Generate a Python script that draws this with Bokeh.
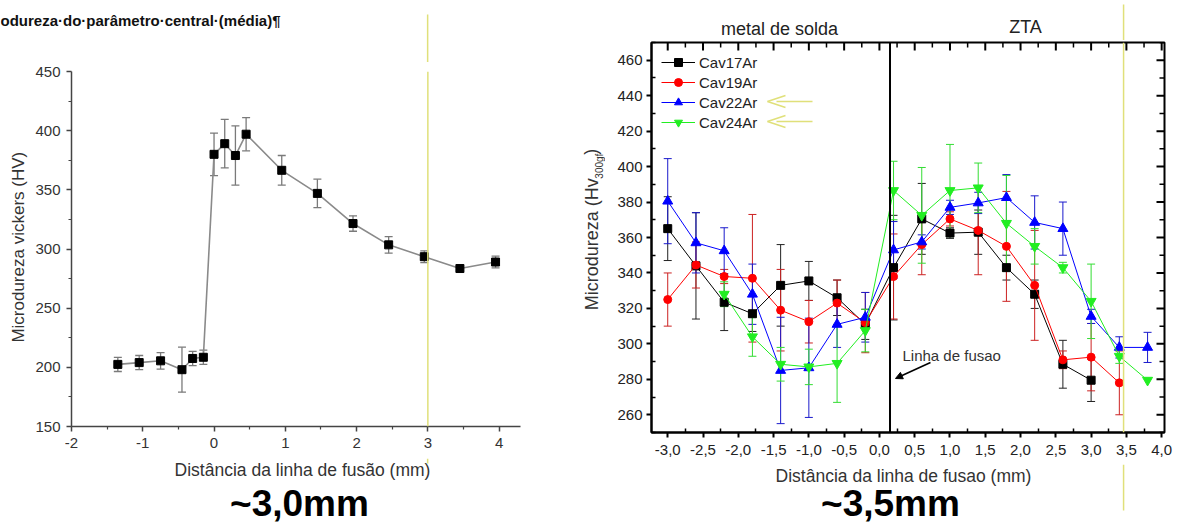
import math
from bokeh.plotting import figure
from bokeh.models import (ColumnDataSource, Whisker, TeeHead, Span, Label, Arrow, NormalHead,
                          FixedTicker, Legend, LegendItem, Range1d)
from bokeh.layouts import row, column
from bokeh.embed import file_html
from bokeh.resources import INLINE

FONT = "Liberation Sans"
YELLOW = "#e0e07a"

# ---------------- left chart data ----------------
left_x = [-1.35, -1.05, -0.75, -0.45, -0.30, -0.15, 0.0, 0.15, 0.30, 0.45, 0.95, 1.45, 1.95, 2.45, 2.95, 3.45, 3.95]
left_y = [202.5, 204, 205.5, 198, 207.5, 208.5, 380, 389, 379, 397, 366.5, 347, 321.5, 303.5, 293.5, 283.5, 289]
left_err = [6, 6, 7, 19, 6, 6, 18, 20.5, 25, 14, 12.5, 12, 6.5, 7, 5, 2, 5]
left_xticks = [-2, -1, 0, 1, 2, 3, 4]
left_xtick_labels = ["-2", "-1", "0", "1", "2", "3", "4"]
left_xminor = [-1.5, -0.5, 0.5, 1.5, 2.5, 3.5]
left_yticks = [150, 200, 250, 300, 350, 400, 450]
left_ytick_labels = ["150", "200", "250", "300", "350", "400", "450"]
left_yminor = [175, 225, 275, 325, 375, 425]
left_title = "odureza·do·parâmetro·central·(média)¶"
left_xlabel = "Distância da linha de fusão (mm)"
left_ylabel = "Microdureza vickers (HV)"
left_note = "~3,0mm"
left_mark_x = 3.0

# ---------------- right chart data ----------------
series_names = ["Cav17Ar", "Cav19Ar", "Cav22Ar", "Cav24Ar"]
x17 = [-3.0, -2.6, -2.2, -1.8, -1.4, -1.0, -0.6, -0.2, 0.2, 0.6, 1.0, 1.4, 1.8, 2.2, 2.6, 3.0]
y17 = [365, 344, 323.5, 317, 333, 335.5, 326, 311, 343, 370.5, 362.5, 363, 343, 328, 288.5, 279.5]
e17 = [18, 30, 16, 10, 23, 11, 10, 8.5, 29.5, 20, 3, 12.5, 7, 8, 13.5, 12]

x19 = [-3.0, -2.6, -2.2, -1.8, -1.4, -1.0, -0.6, -0.2, 0.2, 0.6, 1.0, 1.4, 1.8, 2.2, 2.6, 3.0, 3.4]
y19 = [325, 344.5, 338, 337, 319, 312.5, 323, 312, 338, 356, 370.5, 364, 355, 333, 291, 292.5, 278]
e19 = [15, 13, 4, 36, 23, 12, 13, 17, 24, 17, 4, 25, 31, 31, 5, 19, 18]

x22 = [-3.0, -2.6, -2.2, -1.8, -1.4, -1.0, -0.6, -0.2, 0.2, 0.6, 1.0, 1.4, 1.8, 2.2, 2.6, 3.0, 3.4, 3.8]
y22 = [380.5, 357, 352.5, 328, 285, 286.5, 311, 315, 353, 357.5, 377, 379.5, 382.5, 368.5, 365, 315.5, 298, 298]
e22 = [24, 17, 13, 17, 30, 28, 13, 14, 16, 4, 4, 6, 13, 15, 15, 4, 6, 8.5]

x24 = [-2.2, -1.8, -1.4, -1.0, -0.6, -0.2, 0.2, 0.6, 1.0, 1.4, 1.8, 2.2, 2.6, 3.0, 3.4, 3.8]
y24 = [328, 304, 288.5, 287, 289, 307.5, 386.5, 372.5, 386.5, 388, 368, 355, 343, 324, 293, 279.5]
e24 = [7, 11, 9.5, 10, 22, 12, 16.5, 27, 26, 14, 27, 10, 3, 21, 4, 0]

right_xticks = [-3.0, -2.5, -2.0, -1.5, -1.0, -0.5, 0.0, 0.5, 1.0, 1.5, 2.0, 2.5, 3.0, 3.5, 4.0]
right_xtick_labels = ["-3,0", "-2,5", "-2,0", "-1,5", "-1,0", "-0,5", "0,0", "0,5",
                      "1,0", "1,5", "2,0", "2,5", "3,0", "3,5", "4,0"]
right_xminor = [-2.75, -2.25, -1.75, -1.25, -0.75, -0.25, 0.25, 0.75, 1.25, 1.75, 2.25, 2.75, 3.25, 3.75]
right_yticks = [260, 280, 300, 320, 340, 360, 380, 400, 420, 440, 460]
right_yminor = [250, 270, 290, 310, 330, 350, 370, 390, 410, 430, 450, 470]
fusion_x = 0.15
right_mark_x = 3.46
right_xlabel = "Distância da linha de fusao (mm)"
right_ylabel_parts = ["Microdureza (Hv", "300gf", ")"]
right_note = "~3,5mm"
zone_labels = ["metal de solda", "ZTA"]
fusion_label = "Linha de fusao"

# ---------------- layout geometry (page pixels) ----------------
L_X0, L_X1 = 0, 578
R_X0, R_X1 = 578, 1187
PAGE_H = 526

LXR = (-2.0, 4.3)
LYR = (150, 450)
L_FRAME = (70, 520, 71, 426)
RXR = (-3.23, 4.04)
RYR = (250, 470)
R_FRAME = (651, 1164, 42, 432)


def l_px(x):
    return L_FRAME[0] + (x - LXR[0]) * (L_FRAME[1] - L_FRAME[0]) / (LXR[1] - LXR[0])


def r_px(x):
    return R_FRAME[0] + (x - RXR[0]) * (R_FRAME[1] - R_FRAME[0]) / (RXR[1] - RXR[0])


def rx(px):
    return RXR[0] + (px - R_FRAME[0]) * (RXR[1] - RXR[0]) / (R_FRAME[1] - R_FRAME[0])


def ry(py):
    return RYR[1] - (py - R_FRAME[2]) * (RYR[1] - RYR[0]) / (R_FRAME[3] - R_FRAME[2])


def canvas(x0, x1, y0, y1):
    """Axis-less figure whose data coordinates are page pixels (y negated)."""
    c = figure(width=x1 - x0, height=y1 - y0, x_range=Range1d(x0, x1), y_range=Range1d(-y1, -y0),
               title=None, x_axis_location=None, y_axis_location=None, min_border=0,
               output_backend="svg", toolbar_location=None)
    c.outline_line_color = None
    c.grid.visible = False
    c.background_fill_color = "white"
    c.border_fill_color = "white"
    return c


def lab(c, x, y, text, **kw):
    base = dict(x=x, y=-y, text=text, text_font=FONT, text_align="center", text_baseline="middle")
    base.update(kw)
    c.add_layout(Label(**base))


def vline(c, x, y0, y1):
    c.segment(x0=[x], y0=[-y0], x1=[x], y1=[-y1], line_color=YELLOW, line_width=1.5)


def add_whiskers(p, xs, ys, es, color, size, width=1):
    pts = [(x, y - e, y + e) for x, y, e in zip(xs, ys, es) if e > 0]
    src = ColumnDataSource(dict(x=[a[0] for a in pts], lower=[a[1] for a in pts], upper=[a[2] for a in pts]))
    w = Whisker(source=src, base="x", lower="lower", upper="upper", dimension="height",
                line_color=color, line_width=width,
                upper_head=TeeHead(size=size, line_color=color, line_width=width),
                lower_head=TeeHead(size=size, line_color=color, line_width=width))
    p.add_layout(w)


# ======================= LEFT CHART =======================
L_HEAD_Y1 = 62
L_MID_Y1 = 458
L_SIDE_X1 = 32

p1 = figure(width=L_X1 - L_SIDE_X1, height=L_MID_Y1 - L_HEAD_Y1,
            x_range=Range1d(*LXR), y_range=Range1d(*LYR), title=None,
            output_backend="svg", toolbar_location=None,
            min_border_left=L_FRAME[0] - L_SIDE_X1, min_border_right=L_X1 - L_FRAME[1],
            min_border_top=L_FRAME[2] - L_HEAD_Y1, min_border_bottom=L_MID_Y1 - L_FRAME[3])
p1.grid.visible = False
p1.outline_line_color = None

p1.xaxis.ticker = FixedTicker(ticks=left_xticks, minor_ticks=left_xminor)
p1.yaxis.ticker = FixedTicker(ticks=left_yticks, minor_ticks=left_yminor)
p1.xaxis.major_label_overrides = dict(zip(left_xticks, left_xtick_labels))
p1.yaxis.major_label_overrides = dict(zip(left_yticks, left_ytick_labels))
for ax in (p1.xaxis[0], p1.yaxis[0]):
    ax.axis_line_color = "#444444"
    ax.axis_line_width = 1.5
    ax.major_tick_line_color = "#444444"
    ax.minor_tick_line_color = "#444444"
    ax.major_tick_line_width = 1.5
    ax.minor_tick_line_width = 1.2
    ax.major_tick_out = 5
    ax.major_tick_in = 0
    ax.minor_tick_out = 3
    ax.minor_tick_in = 0
    ax.major_label_text_font = FONT
    ax.major_label_text_font_size = "15px"
    ax.major_label_text_color = "#333333"
    ax.major_label_standoff = 6

add_whiskers(p1, left_x, left_y, left_err, "#7a7a7a", 8, 1.3)
p1.line(left_x, left_y, line_color="#8a8a8a", line_width=1.6)
p1.scatter(left_x, left_y, marker="square", size=8, fill_color="black", line_color="black")
p1.add_layout(Span(location=left_mark_x, dimension="height", line_color=YELLOW, line_width=1.5))

l_head = canvas(L_X0, L_X1, 0, L_HEAD_Y1)
lab(l_head, 0, 20, left_title, text_align="left", text_font_size="15px", text_font_style="bold",
    text_color="#111111")
vline(l_head, l_px(left_mark_x), 14, L_HEAD_Y1)

l_side = canvas(L_X0, L_SIDE_X1, L_HEAD_Y1, L_MID_Y1)
lab(l_side, 18, 258, left_ylabel, angle=math.pi / 2, text_font_size="17px", text_color="#333333")

l_foot = canvas(L_X0, L_X1, L_MID_Y1, PAGE_H)
lab(l_foot, 302, 469, left_xlabel, text_font_size="17.5px", text_color="#333333")
lab(l_foot, 299, 503, left_note, text_font_size="37px", text_font_style="bold", text_color="black")
vline(l_foot, l_px(left_mark_x), L_MID_Y1, 463)

left_block = column(l_head, row(l_side, p1), l_foot)

# ======================= RIGHT CHART =======================
R_HEAD_Y1 = 40
R_MID_Y1 = 464
R_SIDE_X1 = 605

p2 = figure(width=R_X1 - R_SIDE_X1, height=R_MID_Y1 - R_HEAD_Y1,
            x_range=Range1d(*RXR), y_range=Range1d(*RYR), title=None,
            output_backend="svg", toolbar_location=None,
            min_border_left=R_FRAME[0] - R_SIDE_X1, min_border_right=R_X1 - R_FRAME[1],
            min_border_top=R_FRAME[2] - R_HEAD_Y1, min_border_bottom=R_MID_Y1 - R_FRAME[3])
p2.grid.visible = False
p2.outline_line_color = "black"
p2.outline_line_width = 2

p2.xaxis.ticker = FixedTicker(ticks=right_xticks, minor_ticks=right_xminor)
p2.yaxis.ticker = FixedTicker(ticks=right_yticks, minor_ticks=right_yminor)
p2.xaxis.major_label_overrides = dict(zip(right_xticks, right_xtick_labels))
for ax in (p2.xaxis[0], p2.yaxis[0]):
    ax.axis_line_color = "black"
    ax.axis_line_width = 2
    ax.major_tick_line_color = "black"
    ax.minor_tick_line_color = "black"
    ax.major_tick_line_width = 2
    ax.minor_tick_line_width = 1.5
    ax.major_tick_out = 5
    ax.major_tick_in = 0
    ax.minor_tick_out = 0
    ax.minor_tick_in = 4
    ax.major_label_text_font = FONT
    ax.major_label_text_font_size = "15px"
    ax.major_label_text_color = "#222222"
p2.xaxis[0].major_label_standoff = 7
p2.yaxis[0].major_label_standoff = 4

# inward ticks on the top and right frame edges
px_per_y = (R_FRAME[3] - R_FRAME[2]) / (RYR[1] - RYR[0])
px_per_x = (R_FRAME[1] - R_FRAME[0]) / (RXR[1] - RXR[0])
for ticks, length in ((right_xticks, 8), (right_xminor, 5)):
    p2.segment(x0=ticks, y0=[RYR[1]] * len(ticks), x1=ticks, y1=[RYR[1] - length / px_per_y] * len(ticks),
               line_color="black", line_width=2 if length == 8 else 1.5)
for ticks, length in ((right_yticks, 8), (right_yminor, 5)):
    p2.segment(x0=[RXR[1]] * len(ticks), y0=ticks, x1=[RXR[1] - length / px_per_x] * len(ticks), y1=ticks,
               line_color="black", line_width=2 if length == 8 else 1.5)

p2.add_layout(Span(location=fusion_x, dimension="height", line_color="black", line_width=2))

series = [
    (x17, y17, e17, "black", "#222222", "square", 8),
    (x19, y19, e19, "#ff0000", "#cc2222", "circle", 8),
    (x22, y22, e22, "#0000ff", "#1a1acc", "triangle", 10),
    (x24, y24, e24, "#22ee22", "#33dd33", "inverted_triangle", 10),
]
items = []
for name, (xs, ys, es, col, ecol, mk, sz) in zip(series_names, series):
    add_whiskers(p2, xs, ys, es, ecol, 8, 1)
    lr = p2.line(xs, ys, line_color=col, line_width=1)
    sr = p2.scatter(xs, ys, marker=mk, size=sz, fill_color=col, line_color=col)
    items.append(LegendItem(label=name, renderers=[lr, sr]))

legend = Legend(items=items, location="top_left", margin=0, padding=10, spacing=0,
                glyph_width=34, glyph_height=20, label_height=20, label_standoff=4,
                label_text_font=FONT, label_text_font_size="15px", label_text_color="#222222",
                border_line_alpha=0, background_fill_alpha=0)
p2.add_layout(legend)

# yellow pointer arrows next to Cav22Ar and Cav24Ar
for py in (101, 121):
    yy = ry(py)
    tip = rx(767)
    p2.segment(x0=[tip, tip, rx(776)], y0=[yy, yy, yy],
               x1=[rx(785), rx(785), rx(812)], y1=[ry(py - 6), ry(py + 6), yy],
               line_color=YELLOW, line_width=1.5)

p2.add_layout(Span(location=right_mark_x, dimension="height", line_color=YELLOW, line_width=1.5))

p2.add_layout(Label(x=rx(902), y=ry(355), text=fusion_label, text_font=FONT, text_align="left",
                    text_baseline="middle", text_font_size="15px", text_color="#333333"))
p2.add_layout(Arrow(x_start=rx(930), y_start=ry(362), x_end=rx(895), y_end=ry(378),
                    line_color="black", line_width=1.5,
                    end=NormalHead(size=7, fill_color="black", line_color="black")))

r_head = canvas(R_X0, R_X1, 0, R_HEAD_Y1)
lab(r_head, 779, 28, zone_labels[0], text_font_size="18px", text_color="#222222")
lab(r_head, 1025, 26, zone_labels[1], text_font_size="18px", text_color="#222222")
vline(r_head, r_px(right_mark_x), 4, R_HEAD_Y1)

r_side = canvas(R_X0, R_SIDE_X1, R_HEAD_Y1, R_MID_Y1)
lab(r_side, 591, 331, right_ylabel_parts[0], angle=math.pi / 2, text_align="left",
    text_font_size="18px", text_color="#333333")
lab(r_side, 599, 188, right_ylabel_parts[1], angle=math.pi / 2, text_align="left",
    text_font_size="10px", text_color="#333333")
lab(r_side, 590, 162, right_ylabel_parts[2], angle=math.pi / 2, text_align="left",
    text_font_size="18px", text_color="#333333")

r_foot = canvas(R_X0, R_X1, R_MID_Y1, PAGE_H)
lab(r_foot, 903, 475, right_xlabel, text_font_size="17.5px", text_color="#333333")
lab(r_foot, 890, 503, right_note, text_font_size="37px", text_font_style="bold", text_color="black")
vline(r_foot, r_px(right_mark_x), R_MID_Y1, 510)

right_block = column(r_head, row(r_side, p2), r_foot)

layout = row(left_block, right_block)
open("out.html", "w").write(file_html(layout, INLINE))
